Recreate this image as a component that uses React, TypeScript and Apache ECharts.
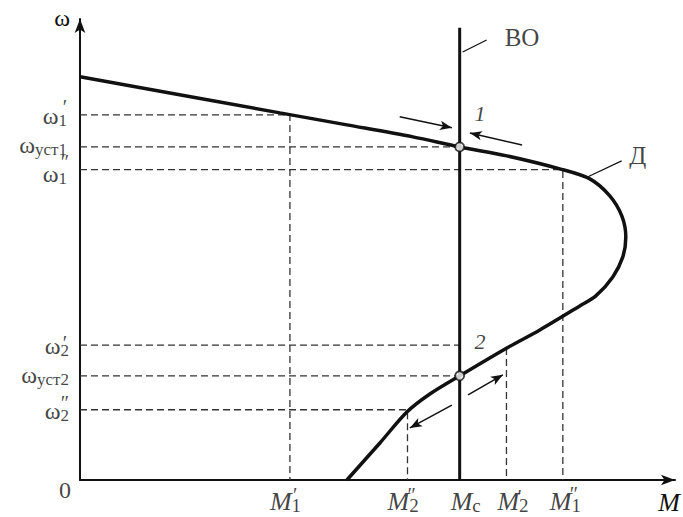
import React, { useEffect, useRef } from 'react';
import * as echarts from 'echarts';

// ---- values (M = torque, ω = angular speed), axis units ----
const curveM = [0, 33.33, 44.5, 55.5, 63.3, 71.17, 80, 85, 88.33, 90.33, 91, 90.5, 88.83, 86, 83.33, 76.67, 71.17, 63.3, 58.33, 54.5, 50, 44.5];
const curveW = [86.67, 78.92, 76.34, 73.76, 71.6, 69.68, 66.88, 64.73, 61.08, 56.77, 52.26, 47.96, 43.66, 39.57, 37.42, 32.26, 28.39, 22.4, 18.49, 14.62, 7.96, 0];

const Mc = 63.3;          // load torque (vertical line ВО)
const loadTop = 97.2;     // top of the ВО line
const M1p = 35;
const M2pp = 54.6;
const M2p = 71.1;
const M1pp = 80.5;
const w1p = 78.5;
const wUst1 = 71.6;
const w1pp = 66.7;
const w2p = 29;
const wUst2 = 22.4;
const w2pp = 15.1;
const w2pOnCurve = 28.4;

// arrows (from -> to) showing the disturbance directions
const arrowFrom = [[53.3, 78.1], [73.7, 72.0], [64.7, 18.3], [62, 16.1]];
const arrowTo = [[62, 75.7], [65, 74.6], [70.5, 22.6], [55, 11.2]];
// leader lines for the labels ВО and Д
const leaderFrom = [[63.8, 92.0], [84.7, 65.2]];
const leaderTo = [[67.8, 94.6], [90.3, 68.6]];

// texts
const yTickText = ['{w|ω}{s|1}', '{w|ω}{s|уст1}', '{w|ω}{s|1}', '{w|ω}{s|2}', '{w|ω}{s|уст2}', '{w|ω}{s|2}'];
const yTickValue = [w1p, wUst1, w1pp, w2p, wUst2, w2pp];
const yPrimeText = ['′', '″', '′', '″'];
const yPrimeValue = [w1p, w1pp, w2p, w2pp];
const xTickText = ['{m|M}{s|1}', '{m|M}{s|2}', '{m|M}{s|c}', '{m|M}{s|2}', '{m|M}{s|1}'];
const xTickValue = [M1p, M2pp, Mc, M2p, M1pp];
const xPrimeText = ['′', '″', '′', '″'];
const xPrimeValue = [M1p, M2pp, M2p, M1pp];

// ---- styling ----
const ink = '#111';
const serif = '"Liberation Serif", "Times New Roman", serif';
const yTickOffset = [[-13, 1], [-13, -2], [-13, 4], [-11, 1], [-11, -1], [-11, 1]];
const yPrimeOffset = [[-13, -8], [-11, -8], [-13, -2], [-11, -7]];
const xTickOffset = [[-20, 21], [-20, 21], [-9, 21], [-9, 21], [-13, 21]];
const xPrimeOffset = [[3, 15], [0, 15], [11, 17], [7, 14]];

const yRich = {
  w: { fontFamily: serif, fontSize: 24, color: ink },
  s: { fontFamily: serif, fontSize: 17, color: ink, padding: [9, 0, 0, 0] },
};
const xRich = {
  m: { fontFamily: serif, fontSize: 26, fontStyle: 'italic', color: ink },
  s: { fontFamily: serif, fontSize: 19, color: ink, padding: [9, 0, 0, 0] },
};

function labelSeries(name: string, values: number[][], texts: string[], offsets: number[][], extra: any) {
  return {
    type: 'scatter',
    name,
    silent: true,
    z: 20,
    symbolSize: 1,
    itemStyle: { color: 'rgba(0,0,0,0)' },
    data: values.map((v, i) => ({
      value: v,
      label: {
        show: true,
        position: 'inside',
        formatter: texts[i],
        offset: offsets[i],
        verticalAlign: 'middle',
        color: ink,
        fontFamily: serif,
        ...extra,
      },
    })),
  };
}

function dashed(points: number[][]) {
  return {
    type: 'line',
    data: points,
    symbol: 'none',
    silent: true,
    z: 2,
    lineStyle: { color: '#333', width: 1.3, type: [7, 4] },
  };
}

const option: any = {
  animation: false,
  backgroundColor: '#fff',
  grid: { left: 80, right: 8, top: 19, bottom: 37 },
  xAxis: {
    type: 'value',
    min: 0,
    max: 99.2,
    axisLine: { show: true, onZero: false, lineStyle: { color: ink, width: 2 }, symbol: ['none', 'arrow'], symbolSize: [8, 14] },
    axisTick: { show: false },
    axisLabel: { show: false },
    splitLine: { show: false },
    name: 'M',
    nameLocation: 'end',
    nameGap: 5,
    nameTextStyle: { fontFamily: serif, fontSize: 26, fontStyle: 'italic', color: ink, align: 'right', verticalAlign: 'top', padding: [9, 0, 0, 0] },
  },
  yAxis: {
    type: 'value',
    min: 0,
    max: 99.1,
    axisLine: { show: true, onZero: false, lineStyle: { color: ink, width: 2 }, symbol: ['none', 'arrow'], symbolSize: [8, 14] },
    axisTick: { show: false },
    axisLabel: { show: false },
    splitLine: { show: false },
    name: 'ω',
    nameLocation: 'end',
    nameGap: 1,
    nameTextStyle: { fontFamily: serif, fontSize: 24, color: ink, align: 'right', verticalAlign: 'middle', padding: [0, 10, 0, 0] },
  },
  series: [
    dashed([[0, w1p], [M1p, w1p], [M1p, 0]]),
    dashed([[0, wUst1], [Mc, wUst1]]),
    dashed([[0, w1pp], [M1pp, w1pp], [M1pp, 0]]),
    dashed([[0, w2p], [Mc, w2p]]),
    dashed([[M2p, w2pOnCurve], [M2p, 0]]),
    dashed([[0, wUst2], [Mc, wUst2]]),
    dashed([[0, w2pp], [M2pp, w2pp], [M2pp, 0]]),
    {
      type: 'line',
      name: 'Д',
      data: curveM.map((m, i) => [m, curveW[i]]),
      smooth: 0.3,
      symbol: 'none',
      silent: true,
      z: 5,
      lineStyle: { color: ink, width: 3.5 },
    },
    {
      type: 'line',
      name: 'ВО',
      data: [[Mc, 0], [Mc, loadTop]],
      symbol: 'none',
      silent: true,
      z: 5,
      lineStyle: { color: ink, width: 3 },
      markLine: {
        silent: true,
        animation: false,
        symbol: ['none', 'arrow'],
        symbolSize: [7, 12],
        label: { show: false },
        lineStyle: { color: ink, width: 1.5, type: 'solid' },
        data: arrowFrom.map((f, i) => [{ coord: f }, { coord: arrowTo[i] }]),
      },
    },
    {
      type: 'line',
      name: 'leaders',
      data: [],
      symbol: 'none',
      silent: true,
      markLine: {
        silent: true,
        animation: false,
        symbol: ['none', 'none'],
        label: { show: false },
        lineStyle: { color: ink, width: 1.2, type: 'solid' },
        data: leaderFrom.map((f, i) => [{ coord: f }, { coord: leaderTo[i] }]),
      },
    },
    {
      type: 'scatter',
      name: 'points',
      data: [[Mc, wUst1], [Mc, wUst2]],
      symbol: 'circle',
      symbolSize: 9,
      silent: true,
      z: 8,
      itemStyle: { color: '#fff', borderColor: ink, borderWidth: 1.8 },
    },
    labelSeries('yTicks', yTickValue.map((v) => [0, v]), yTickText, yTickOffset, { align: 'right', rich: yRich }),
    labelSeries('yPrimes', yPrimeValue.map((v) => [0, v]), yPrimeText, yPrimeOffset, { align: 'right', fontSize: 20 }),
    labelSeries('xTicks', xTickValue.map((v) => [v, 0]), xTickText, xTickOffset, { align: 'left', rich: xRich }),
    labelSeries('xPrimes', xPrimeValue.map((v) => [v, 0]), xPrimeText, xPrimeOffset, { align: 'left', fontSize: 20 }),
    labelSeries('zero', [[0, 0]], ['0'], [[-15, 10]], { align: 'center', fontSize: 24 }),
    labelSeries('names', [[73.7, 95.1], [93, 69.7]], ['ВО', 'Д'], [[0, 0], [0, 0]], { align: 'center', fontSize: 25 }),
    labelSeries('points', [[66.7, 78.7], [66.7, 29.7]], ['1', '2'], [[0, 0], [0, 0]], { align: 'center', fontSize: 22, fontStyle: 'italic' }),
  ],
};

export default function App() {
  const ref = useRef<HTMLDivElement>(null);
  useEffect(() => {
    const chart = echarts.init(ref.current!, null, { renderer: 'svg' });
    chart.setOption(option);
    return () => chart.dispose();
  }, []);
  return (
    <div
      ref={ref}
      style={{ position: 'absolute', left: 0, top: 0, width: 683, height: 517, background: '#fff' }}
    />
  );
}
